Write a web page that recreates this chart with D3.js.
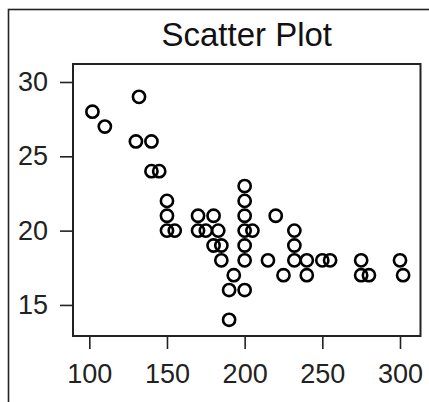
<!DOCTYPE html>
<html>
<head>
<meta charset="utf-8">
<script src="https://cdn.jsdelivr.net/npm/d3@7"></script>
<style>
  html, body { margin: 0; padding: 0; background: #fff; }
  svg { display: block; }
</style>
</head>
<body>
<svg id="chart" width="429" height="402"></svg>
<script>
const title = "Scatter Plot";
const xValues = [102,110,132,130,140,140,145,150,150,150,155,170,180,170,175,183,180,185,185,193,190,200,190,200,200,200,200,200,200,205,220,215,225,232,232,232,240,240,250,255,275,275,280,300,302];
const yValues = [28,27,29,26,26,24,24,22,21,20,20,21,21,20,20,20,19,19,18,17,16,16,14,23,22,21,20,19,18,20,21,18,17,20,19,18,18,17,18,18,18,17,17,18,17];
const xTicks = [100,150,200,250,300];
const yTicks = [15,20,25,30];

const points = xValues.map((x, i) => ({x, y: yValues[i]}));

const svg = d3.select("#chart");
const plot = {left: 73, right: 420.5, top: 64, bottom: 336};

const x = d3.scaleLinear().domain([89.5, 313.2]).range([plot.left, plot.right]);
const y = d3.scaleLinear().domain([12.91, 31.21]).range([plot.bottom, plot.top]);

const fontFamily = "Liberation Sans, Arial, sans-serif";

// outer frame
svg.append("rect")
  .attr("x", 8.5).attr("y", 9.5).attr("width", 600).attr("height", 600)
  .attr("fill", "none").attr("stroke", "#222").attr("stroke-width", 1.6);

// title
svg.append("text")
  .attr("x", (plot.left + plot.right) / 2)
  .attr("y", 46)
  .attr("text-anchor", "middle")
  .attr("font-family", fontFamily)
  .attr("font-size", 33)
  .attr("fill", "#111")
  .text(title);

const xAxis = svg.append("g")
  .attr("transform", `translate(0,${plot.bottom})`)
  .call(d3.axisBottom(x).tickValues(xTicks).tickSize(13).tickPadding(15).tickFormat(d3.format("d")));
const yAxis = svg.append("g")
  .attr("transform", `translate(${plot.left},0)`)
  .call(d3.axisLeft(y).tickValues(yTicks).tickSize(13).tickPadding(12).tickFormat(d3.format("d")));

[xAxis, yAxis].forEach(g => {
  g.select(".domain").remove();
  g.selectAll(".tick line").attr("stroke", "#222").attr("stroke-width", 1.6);
  g.selectAll(".tick text")
    .attr("font-family", fontFamily)
    .attr("font-size", 27)
    .attr("fill", "#222");
});

// plot frame
svg.append("rect")
  .attr("x", plot.left).attr("y", plot.top)
  .attr("width", plot.right - plot.left).attr("height", plot.bottom - plot.top)
  .attr("fill", "none").attr("stroke", "#222").attr("stroke-width", 2);

// points
svg.append("g")
  .selectAll("circle")
  .data(points)
  .join("circle")
  .attr("cx", d => x(d.x))
  .attr("cy", d => y(d.y))
  .attr("r", 6.1)
  .attr("fill", "none")
  .attr("stroke", "#000")
  .attr("stroke-width", 2.6);
</script>
</body>
</html>
